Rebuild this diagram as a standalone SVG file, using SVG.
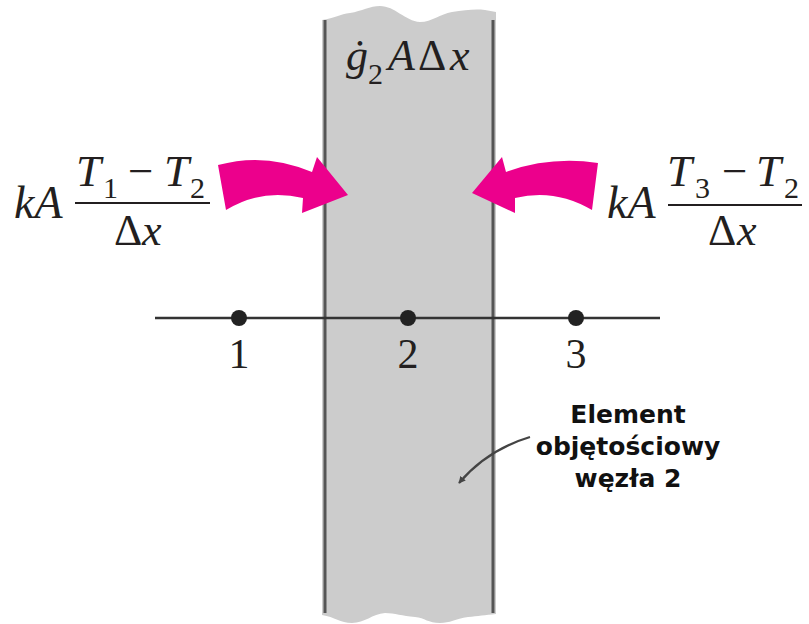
<svg xmlns="http://www.w3.org/2000/svg" width="809" height="624" viewBox="0 0 809 624">
<style>
.m{font-family:"Liberation Serif","Times New Roman",serif;fill:#231f20}
.i{font-style:italic}
.sub{font-size:30px}
.bar{stroke:#231f20;stroke-width:2}
.heat{fill:#EC008C}
.lbl{font-family:"DejaVu Sans",Verdana,sans-serif;font-weight:bold;font-size:25px;fill:#111;text-anchor:middle}
.wall{stroke:#555;stroke-width:3}
</style>
<defs>
<marker id="ah" viewBox="0 0 10 10" refX="9" refY="5" markerWidth="7" markerHeight="7" orient="auto" markerUnits="userSpaceOnUse">
<path d="M0,0 L10,5 L0,10 Z" fill="#444"/>
</marker>
</defs>
<rect width="809" height="624" fill="#fff"/>
<g id="slab">
<path d="M322,20 C335,18 340,14 350,13 C362,11 370,6 380,6 C395,6 405,21 420,22 C432,22 440,14 452,12 C465,10 475,9 485,10 L496,12 L496,614 C485,615 478,616 468,617 C455,619 450,623 440,623 C428,623 425,618 415,617 C402,616 395,613 385,613 C372,614 365,623 352,623 C340,623 335,617 322,615 Z" fill="#cccccc"/>
<line class="wall" x1="325" y1="20" x2="325" y2="613"/>
<line class="wall" x1="493" y1="20" x2="493" y2="613"/>
<text class="m" font-size="44" y="70"><tspan class="i" x="346">ġ</tspan><tspan class="sub" x="368" y="84">2</tspan><tspan class="i" x="388" y="70">A</tspan><tspan x="418">Δ</tspan><tspan class="i" x="450">x</tspan></text>
</g>
<g id="axis">
<line x1="155" y1="318" x2="660" y2="318" stroke="#333" stroke-width="2.5"/>
</g>
<g id="node1">
<circle cx="239" cy="318" r="8" fill="#222"/>
<text class="m" font-size="42" x="239" y="368" text-anchor="middle">1</text>
</g>
<g id="node2">
<circle cx="408" cy="318" r="8" fill="#222"/>
<text class="m" font-size="42" x="408" y="368" text-anchor="middle">2</text>
</g>
<g id="node3">
<circle cx="576" cy="318" r="8" fill="#222"/>
<text class="m" font-size="42" x="576" y="368" text-anchor="middle">3</text>
</g>
<g id="flux-left">
<text class="m i" font-size="46" x="14" y="218">kA</text>
<text class="m" font-size="45" y="186"><tspan class="i" x="76">T</tspan><tspan class="sub" x="103" y="198">1</tspan><tspan x="128" y="186">−</tspan><tspan class="i" x="164">T</tspan><tspan class="sub" x="190" y="198">2</tspan></text>
<line class="bar" x1="75" y1="203" x2="210" y2="203"/>
<text class="m" font-size="44" y="245"><tspan x="114">Δ</tspan><tspan class="i" x="142">x</tspan></text>
</g>
<g id="flux-right">
<text class="m i" font-size="46" x="607" y="218">kA</text>
<text class="m" font-size="45" y="186"><tspan class="i" x="667">T</tspan><tspan class="sub" x="695" y="198">3</tspan><tspan x="722" y="186">−</tspan><tspan class="i" x="756">T</tspan><tspan class="sub" x="784" y="198">2</tspan></text>
<line class="bar" x1="668" y1="205" x2="802" y2="205"/>
<text class="m" font-size="44" y="245"><tspan x="708">Δ</tspan><tspan class="i" x="737">x</tspan></text>
</g>
<g id="connectors">
<path class="heat" d="M218,165 Q265,152 312,172 L317,157 L348,195 L302,213 L303,198 Q262,188 226,210 Z"/>
<path class="heat" d="M472,193 L502,157 L506,172 Q550,156 598,163 L592,210 Q555,188 515,198 L515,213 Z"/>
<path d="M530,437 Q487,450 459,483" fill="none" stroke="#444" stroke-width="2.2" marker-end="url(#ah)"/>
</g>
<g id="label">
<text class="lbl" x="628" y="423">Element</text>
<text class="lbl" x="628" y="455">objętościowy</text>
<text class="lbl" x="628" y="487">węzła 2</text>
</g>
</svg>
